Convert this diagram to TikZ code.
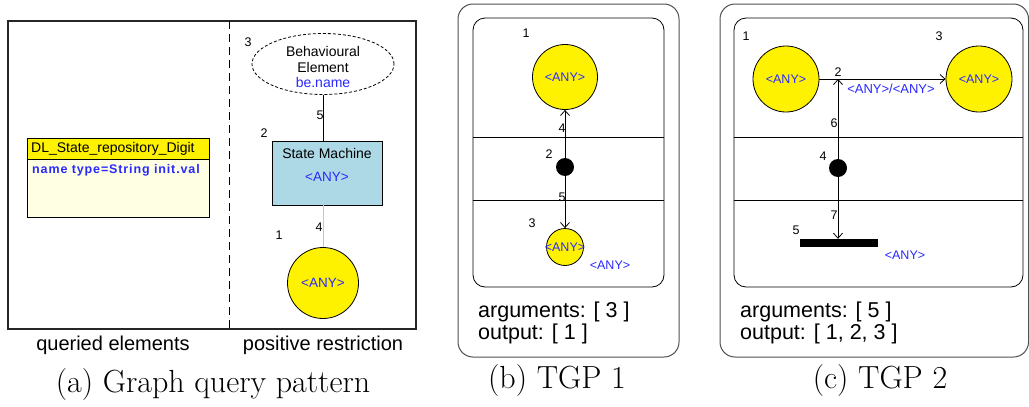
\documentclass[tikz,border=0pt]{standalone}
\usepackage{fontspec}
\newfontfamily\arial{Liberation Sans}
\newfontfamily\arialsp[LetterSpace=7]{Liberation Sans}
\usetikzlibrary{shapes.geometric,arrows.meta}
\definecolor{anyblue}{RGB}{40,40,255}
\definecolor{smblue}{RGB}{173,216,230}
\definecolor{cream}{RGB}{255,255,228}
\definecolor{framec}{RGB}{80,80,80}
\tikzset{
  lbl/.style={font=\arial\fontsize{12.5}{14}\selectfont, inner sep=0pt},
  anyt/.style={font=\arial\fontsize{12.5}{14}\selectfont, text=anyblue, inner sep=0pt},
  yel/.style={circle, draw=black, fill=yellow, line width=0.8pt, minimum size=#1, inner sep=0pt},
  dotn/.style={circle, fill=black, minimum size=18pt, inner sep=0pt},
  big/.style={font=\arial\fontsize{21.5}{24}\selectfont, inner sep=0pt, anchor=west},
  captext/.style={font=\fontsize{32}{34}\selectfont, inner sep=0pt},
  edgearr/.style={line width=0.8pt, -{Straight Barb[length=5pt,width=9pt]}},
}
\begin{document}
\begin{tikzpicture}[x=1pt,y=-1pt]
\useasboundingbox (0,0) rectangle (1029,407);
% ---------- panel (a)
\draw[line width=1.1pt, black!85] (8,21) rectangle (416,329);
\draw[line width=1pt, dash pattern=on 8pt off 5pt] (229,21) -- (229,329);
\node[font=\arial\fontsize{20}{22}\selectfont, inner sep=0pt] (qe) at (113,345) {queried elements};
\node[font=\arial\fontsize{20}{22}\selectfont, inner sep=0pt] (pr) at (323,345) {positive restriction};
\node[captext] (capa) at (213,385) {(a) Graph query pattern};
% class box
\draw[fill=cream, line width=0.8pt] (27,138) rectangle (209,217);
\draw[fill=yellow, line width=0.8pt] (27,138) rectangle (209,159);
\node[anchor=west, font=\arial\fontsize{14}{16}\selectfont, inner sep=0pt] (cls) at (31,148.5) {DL\_State\_repository\_Digit};
\node[anchor=west, font=\arialsp\bfseries\fontsize{12.5}{14}\selectfont, text=anyblue, inner sep=0pt] (attr) at (32,170) {name type=String init.val};
% behavioural element
\node[ellipse, draw, dash pattern=on 3pt off 2pt, line width=0.8pt, minimum width=142pt, minimum height=61pt, inner sep=0pt] (be) at (323,64) {};
\node[align=center, font=\arial\fontsize{14}{15.5}\selectfont, inner sep=0pt] (bet) at (323,67) {Behavioural\\Element\\\textcolor{anyblue}{be.name}};
\node[lbl] (l3a) at (248,42) {3};
% state machine
\node[rectangle, draw=black, fill=smblue, line width=0.8pt, minimum width=110pt, minimum height=64pt, inner sep=0pt] (sm) at (327,173) {};
\node[font=\arial\fontsize{14}{16}\selectfont, inner sep=0pt] (smt) at (327,153) {State Machine};
\node[anyt, font=\arial\fontsize{13.5}{15}\selectfont] (sma) at (327,177) {<ANY>};
\node[lbl] (l2a) at (264,133) {2};
% circle
\node[yel=71pt] (ca) at (323,283) {};
\node[anyt, font=\arial\fontsize{13.5}{15}\selectfont] (caa) at (323,283) {<ANY>};
\node[lbl] (l1a) at (279,235) {1};
\draw[line width=0.8pt] (be.south) -- (be.south |- sm.north) coordinate (smtop);
\draw[line width=1pt, gray!45] (ca.north |- sm.south) -- (ca.north);
\node[lbl] (l5a) at (320,115) {5};
\node[lbl] (l4a) at (319,227) {4};
% ---------- panel (b)
\draw[framec, line width=1pt, rounded corners=15pt] (458,4) rectangle (679,357);
\draw[line width=0.8pt, rounded corners=12pt] (473,18) rectangle (664,287);
\draw[line width=0.8pt] (473,137) -- (664,137);
\draw[line width=0.8pt] (473,200) -- (664,200);
\node[yel=65pt] (b1) at (565,77) {};
\node[anyt] (b1t) at (565,77) {<ANY>};
\node[dotn] (b2) at (565,167) {};
\node[yel=37pt] (b3) at (565,247) {};
\node[anyt] (b3t) at (565,247) {<ANY>};
\node[anyt] (b3x) at (610,265) {<ANY>};
\draw[edgearr] (b2) -- (b1);
\draw[edgearr] (b2) -- (b3);
\node[lbl] (lb1) at (526,33) {1};
\node[lbl] (lb2) at (549,154) {2};
\node[lbl] (lb3) at (532,223) {3};
\node[lbl] (lb4) at (562,128) {4};
\node[lbl] (lb5) at (562,197) {5};
\node[big] (argb) at (478,312) {arguments: [ 3 ]};
\node[big] (outb) at (478,334) {output: [ 1 ]};
\node[captext] (capb) at (557,381) {(b) TGP 1};
% ---------- panel (c)
\draw[framec, line width=1pt, rounded corners=15pt] (720,4) rectangle (1028.5,357);
\draw[line width=0.8pt, rounded corners=12pt] (734,18) rectangle (1023,287);
\draw[line width=0.8pt] (734,137) -- (1023,137);
\draw[line width=0.8pt] (734,200) -- (1023,200);
\node[yel=66pt] (c1) at (786,79) {};
\node[anyt] (c1t) at (786,79) {<ANY>};
\node[yel=66pt] (c3) at (979,79) {};
\node[anyt] (c3t) at (979,79) {<ANY>};
\coordinate (c2) at (838,79);
\node[dotn] (c4) at (838,168) {};
\node[rectangle, fill=black, minimum width=78pt, minimum height=8pt, inner sep=0pt] (c5) at (839,243) {};
\draw[edgearr] (c1) -- (c3);
\draw[edgearr] (c4) -- (c2);
\draw[edgearr] (c4) -- (c4 |- c5.north);
\node[anyt, font=\arial\fontsize{13}{15}\selectfont] (c2t) at (891,89) {<ANY>/<ANY>};
\node[anyt] (c5t) at (905,255) {<ANY>};
\node[lbl] (lc1) at (746,36) {1};
\node[lbl] (lc2) at (838,72) {2};
\node[lbl] (lc3) at (939,36) {3};
\node[lbl] (lc4) at (823,156) {4};
\node[lbl] (lc5) at (796,230) {5};
\node[lbl] (lc6) at (834,123) {6};
\node[lbl] (lc7) at (834,215) {7};
\node[big] (argc) at (740,312) {arguments: [ 5 ]};
\node[big] (outc) at (740,334) {output: [ 1, 2, 3 ]};
\node[captext] (capc) at (880,381) {(c) TGP 2};
\end{tikzpicture}
\end{document}
